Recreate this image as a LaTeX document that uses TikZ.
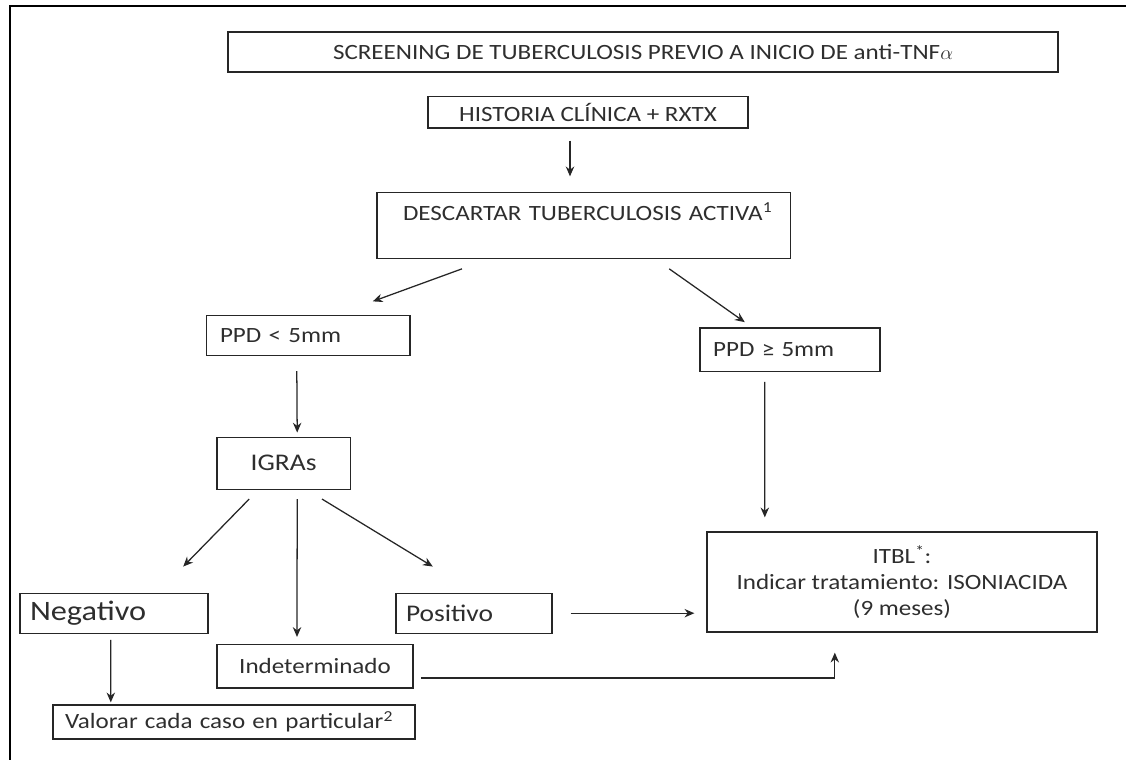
\documentclass[tikz,border=0pt]{standalone}
\usepackage{fontspec}
\setmainfont{Carlito}[FakeStretch=1.15]
\usetikzlibrary{arrows.meta}

\begin{document}
\begin{tikzpicture}[
    font=\fontsize{15.5}{18.5}\selectfont,
    every node/.style={text=black!82},
    box/.style={draw=black!85,line width=0.9pt,rectangle,inner ysep=0pt},
    leftbox/.style={box,align=left},
    arrow/.style={line width=0.9pt,draw=black!85,-{Stealth[length=7pt,width=6pt]}}
]

% === Canvas and frame ===
\useasboundingbox (0,0) rectangle (28.15,-19);
\draw[line width=1.4pt] (28.15,-0.15) -- (0.26,-0.15) -- (0.26,-19);

% === Top boxes ===
\node[box,minimum width=20.75cm,minimum height=1.0cm] (title) at (16.075,-1.3)
    {SCREENING DE TUBERCULOSIS PREVIO A INICIO DE anti-TNF$\alpha$};
\node[box,minimum width=8.0cm,minimum height=0.78cm] (hist) at (14.7,-2.81)
    {HISTORIA CLÍNICA + RXTX};
\node[leftbox,text width=9.03cm,inner xsep=0.65cm,inner ysep=0.1cm,
      text height=0.6cm,text depth=0.85cm] (desc) at (14.59,-5.63)
    {\makebox[\linewidth][l]{DESCARTAR TUBERCULOSIS ACTIVA\textsuperscript{1}}};

% === PPD ===
\node[leftbox,text width=4.42cm,inner xsep=0.33cm,minimum height=1.0cm] (ppdA) at (7.71,-8.38)
    {PPD < 5mm};
\node[leftbox,text width=3.84cm,inner xsep=0.33cm,minimum height=1.08cm] (ppdB) at (19.75,-8.74)
    {PPD ≥ 5mm};

% === IGRAs and results ===
\node[box,minimum width=3.33cm,minimum height=1.3cm,font=\fontsize{17}{20}\selectfont] (igras) at (7.09,-11.58)
    {IGRAs};
\node[leftbox,text width=4.2cm,inner xsep=0.25cm,minimum height=1.0cm,
      font=\fontsize{20}{24}\selectfont] (neg) at (2.85,-15.33) {Negativo};
\node[leftbox,text width=3.4cm,inner xsep=0.25cm,minimum height=1.0cm,
      font=\fontsize{17}{20}\selectfont] (pos) at (11.85,-15.33) {Positivo};
\node[box,minimum width=4.9cm,minimum height=1.08cm] (indet) at (7.875,-16.66) {Indeterminado};
\node[leftbox,text width=8.45cm,inner xsep=0.3cm,minimum height=0.85cm] (valor) at (5.85,-18.05)
    {Valorar cada caso en particular\textsuperscript{2}};

% === Treatment ===
\node[box,minimum width=9.75cm,minimum height=2.5cm,align=center] (itbl) at (22.55,-14.55)
    {ITBL\textsuperscript{*}:\\Indicar tratamiento: ISONIACIDA\\(9 meses)};

% === Arrows ===
\draw[arrow] ([xshift=-0.45cm,yshift=-0.3cm]hist.south) -- ([xshift=-0.34cm,yshift=0.38cm]desc.north);
\draw[arrow] ([xshift=-3.04cm,yshift=-0.25cm]desc.south) -- ([xshift=1.61cm,yshift=0.33cm]ppdA.north);
\draw[arrow] ([xshift=2.14cm,yshift=-0.25cm]desc.south) -- ([xshift=-1.13cm,yshift=0.13cm]ppdB.north);

\draw[arrow] ([xshift=-0.29cm,yshift=-0.38cm]ppdA.south) -- ([xshift=0.34cm,yshift=0.1cm]igras.north);
\draw[arrow] ([xshift=-0.63cm,yshift=-0.25cm]ppdB.south) -- ([xshift=-3.43cm,yshift=0.35cm]itbl.north);

\draw[arrow] ([xshift=-0.86cm,yshift=-0.23cm]igras.south) -- ([xshift=1.73cm,yshift=0.65cm]neg.north);
\draw[arrow] ([xshift=0.34cm,yshift=-0.23cm]igras.south) -- ([xshift=-0.45cm,yshift=0.18cm]indet.north);
\draw[arrow] ([xshift=0.96cm,yshift=-0.23cm]igras.south) -- ([xshift=-1.03cm,yshift=0.65cm]pos.north);

\draw[arrow] ([xshift=-0.08cm,yshift=-0.15cm]neg.south) -- ([xshift=-3.08cm,yshift=0.05cm]valor.north);
\draw[arrow,shorten <=0.45cm,shorten >=0.3cm] (pos.east) -- (pos.east -| itbl.west);
\draw[arrow] ([xshift=0.18cm,yshift=-0.29cm]indet.east) -| ([xshift=-1.68cm,yshift=-0.5cm]itbl.south);

\end{tikzpicture}
\end{document}
